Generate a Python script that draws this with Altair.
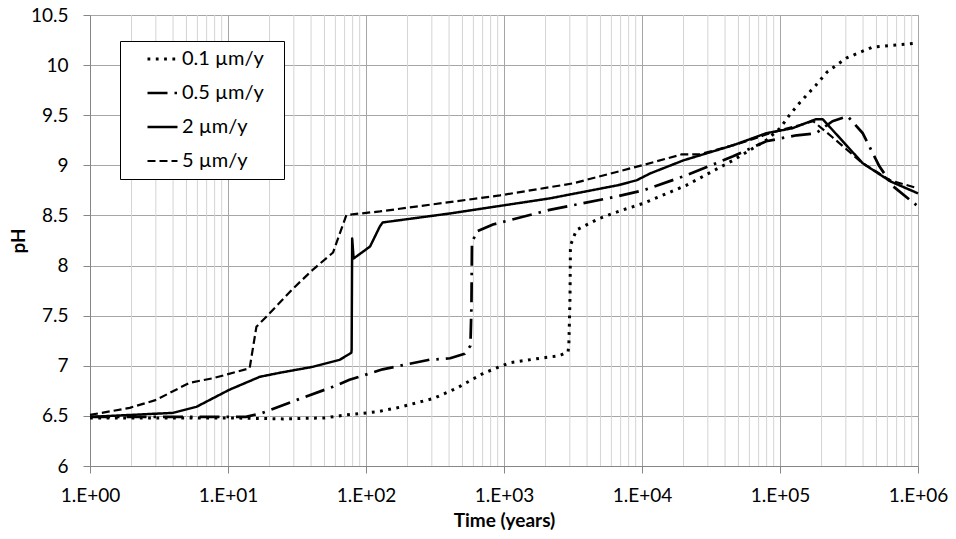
import altair as alt
import pandas as pd

# ---- data ----
series_names = ["0.1 µm/y", "0.5 µm/y", "2 µm/y", "5 µm/y"]

t_01 = [1, 10, 25, 50, 72.4, 119, 174, 309, 452, 708, 1100, 1720, 2510, 2910, 2950, 3010, 3030,
        3350, 4900, 7240, 10200, 20900, 45700, 79400, 100000, 117000, 138000, 182000, 219000,
        302000, 468000, 1000000]
ph_01 = [6.48, 6.48, 6.47, 6.48, 6.51, 6.54, 6.585, 6.675, 6.775, 6.925, 7.03, 7.07, 7.10, 7.14, 7.2, 7.7, 8.2,
         8.355, 8.47, 8.555, 8.62, 8.80, 9.05, 9.25, 9.37, 9.50, 9.62, 9.80, 9.93,
         10.07, 10.18, 10.22]

t_05 = [1, 13.5, 17.8, 31.6, 57.5, 75.9, 132, 288, 407, 519, 571, 581, 586, 631, 832, 2140, 6610,
        10200, 20900, 45700, 79400, 132000, 182000, 240000, 309000, 398000, 525000, 661000, 1000000]
ph_05 = [6.49, 6.49, 6.53, 6.66, 6.79, 6.86, 6.965, 7.06, 7.075, 7.12, 7.2, 7.6, 8.22, 8.34, 8.41, 8.555, 8.69,
         8.75, 8.90, 9.09, 9.24, 9.30, 9.32, 9.44, 9.49, 9.32, 8.99, 8.79, 8.59]

t_2 = [1, 3.98, 5.9, 10.2, 17.0, 23.7, 41.3, 64.6, 78.3, 78.7, 79.4, 81.3, 107, 126, 132, 407, 2140,
       6610, 9120, 11500, 20000, 45700, 79400, 123000, 182000, 204000, 398000, 631000, 1000000]
ph_2 = [6.49, 6.53, 6.59, 6.76, 6.89, 6.93, 6.99, 7.06, 7.13, 7.16, 8.27, 8.07, 8.19, 8.39, 8.43, 8.52, 8.67,
        8.80, 8.85, 8.92, 9.05, 9.20, 9.32, 9.37, 9.46, 9.46, 9.02, 8.84, 8.72]

t_5 = [1, 1.94, 3.02, 5.25, 7.76, 14.35, 16.07, 18.97, 29.6, 41.3, 57.7, 72.1, 126, 933, 3162,
       10000, 19500, 26300, 51300, 89100, 138000, 174000, 240000, 398000, 631000, 1000000]
ph_5 = [6.51, 6.58, 6.66, 6.83, 6.875, 6.975, 7.39, 7.49, 7.77, 7.96, 8.13, 8.505, 8.54, 8.70, 8.82,
        9.0, 9.11, 9.11, 9.22, 9.33, 9.40, 9.44, 9.28, 9.02, 8.85, 8.77]

x_major = [1, 10, 100, 1000, 10000, 100000, 1000000]
x_minor = [m * d for d in x_major[:-1] for m in range(2, 10)]
y_ticks = [6, 6.5, 7, 7.5, 8, 8.5, 9, 9.5, 10, 10.5]

rows = []
for name, ts, ps in zip(series_names, [t_01, t_05, t_2, t_5], [ph_01, ph_05, ph_2, ph_5]):
    for i, (t, p) in enumerate(zip(ts, ps)):
        rows.append({"series": name, "t": t, "ph": p, "order": i})
df = pd.DataFrame(rows)
minor_df = pd.DataFrame({"t": x_minor})

FONT = "Lato"
xscale = alt.Scale(type="log", domain=[1, 1000000], nice=False)
yscale = alt.Scale(domain=[6, 10.5], nice=False, zero=False)

minor = alt.Chart(minor_df).mark_rule(color="#d4d4d4", strokeWidth=1).encode(
    x=alt.X("t:Q", scale=xscale),
    y=alt.value(0), y2=alt.value(451)
)

lines = alt.Chart(df).mark_line(color="black", strokeCap="butt", strokeJoin="round").encode(
    x=alt.X("t:Q", scale=xscale, title="Time (years)",
            axis=alt.Axis(values=x_major, grid=True, gridColor="#a6a6a6", gridWidth=1,
                          labelExpr="'1.E+' + (datum.value < 1e10 ? '0' : '') + format(log(datum.value)/LN10, '.0f')",
                          tickSize=7, tickColor="#868686", domainColor="#868686",
                          labelPadding=13, labelFontSize=19, labelFont=FONT, labelColor="black",
                          titleFont=FONT, titleFontSize=19, titleFontWeight="bold", titleColor="black",
                          titlePadding=6, labelFlush=False)),
    y=alt.Y("ph:Q", scale=yscale, title="pH",
            axis=alt.Axis(values=y_ticks, grid=True, gridColor="#a6a6a6", gridWidth=1, format="~g",
                          tickSize=7, tickColor="#868686", domainColor="#868686",
                          labelPadding=15, labelFontSize=19, labelFont=FONT, labelColor="black",
                          titleFont=FONT, titleFontSize=19, titleFontWeight="bold", titleColor="black",
                          titlePadding=2)),
    strokeDash=alt.StrokeDash("series:N",
                              scale=alt.Scale(domain=series_names,
                                              range=[[2.8, 5.5], [20, 7, 2.5, 7], [1, 0], [8, 4]]),
                              legend=alt.Legend(
                                  title="\u2800", titleOrient="right", titleFontSize=6,
                                  titlePadding=8, titleColor="white",
                                  orient="none", legendX=30, legendY=26,
                                  fillColor="white", strokeColor="black", padding=8,
                                  symbolType="stroke", symbolSize=900, symbolStrokeWidth=2.5,
                                  symbolStrokeColor="black", labelFont=FONT, labelFontSize=20,
                                  labelColor="black", labelOffset=3, symbolOffset=18,
                                  clipHeight=20, rowPadding=14)),
    strokeWidth=alt.StrokeWidth("series:N",
                                scale=alt.Scale(domain=series_names, range=[3.0, 2.2, 2.3, 2.0]),
                                legend=None),
    order="order:Q",
)

chart = alt.layer(minor, lines).properties(
    width=828, height=451,
    autosize=alt.AutoSizeParams(type="none"),
    padding={"left": 90, "top": 15, "right": 38, "bottom": 73},
).configure_view(stroke="#a6a6a6")

chart.save("out.html", embed_options={"renderer": "svg", "actions": False})
